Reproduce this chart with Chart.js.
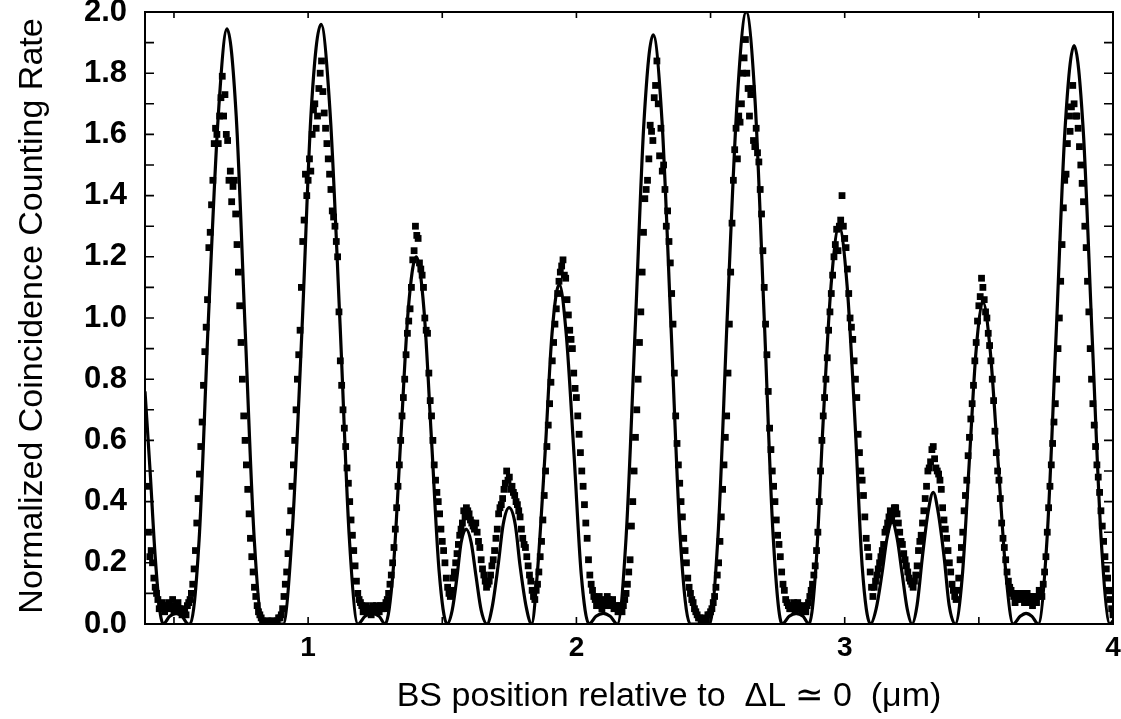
<!DOCTYPE html>
<html>
<head>
<meta charset="utf-8">
<script src="https://cdn.jsdelivr.net/npm/chart.js@4.4.1/dist/chart.umd.min.js"></script>
<style>
  html, body { margin: 0; padding: 0; background: #fff; }
  #wrap { width: 1121px; height: 719px; position: relative; }
</style>
</head>
<body>
<div id="wrap"><canvas id="c" width="1121" height="719"></canvas></div>
<script>
// Axis labels
const xTickLabels = [1, 2, 3, 4];
const yTickLabels = [0.0, 0.2, 0.4, 0.6, 0.8, 1.0, 1.2, 1.4, 1.6, 1.8, 2.0];
const xTitle = 'BS position relative to  \u0394L \u2243 0  (\u03bcm)';
const yTitle = 'Normalized Coincidence Counting Rate';

// Measured coincidence rate vs. beam-splitter position (µm), 5 nm steps
const scanPositions = [
  0.400,0.405,0.410,0.415,0.420,0.425,0.430,0.435,0.440,0.445,0.450,0.455,0.460,0.465,0.470,0.475,0.480,0.485,0.490,0.495,
  0.500,0.505,0.510,0.515,0.520,0.525,0.530,0.535,0.540,0.545,0.550,0.555,0.560,0.565,0.570,0.575,0.580,0.585,0.590,0.595,
  0.600,0.605,0.610,0.615,0.620,0.625,0.630,0.635,0.640,0.645,0.650,0.655,0.660,0.665,0.670,0.675,0.680,0.685,0.690,0.695,
  0.700,0.705,0.710,0.715,0.720,0.725,0.730,0.735,0.740,0.745,0.750,0.755,0.760,0.765,0.770,0.775,0.780,0.785,0.790,0.795,
  0.800,0.805,0.810,0.815,0.820,0.825,0.830,0.835,0.840,0.845,0.850,0.855,0.860,0.865,0.870,0.875,0.880,0.885,0.890,0.895,
  0.900,0.905,0.910,0.915,0.920,0.925,0.930,0.935,0.940,0.945,0.950,0.955,0.960,0.965,0.970,0.975,0.980,0.985,0.990,0.995,
  1.000,1.005,1.010,1.015,1.020,1.025,1.030,1.035,1.040,1.045,1.050,1.055,1.060,1.065,1.070,1.075,1.080,1.085,1.090,1.095,
  1.100,1.105,1.110,1.115,1.120,1.125,1.130,1.135,1.140,1.145,1.150,1.155,1.160,1.165,1.170,1.175,1.180,1.185,1.190,1.195,
  1.200,1.205,1.210,1.215,1.220,1.225,1.230,1.235,1.240,1.245,1.250,1.255,1.260,1.265,1.270,1.275,1.280,1.285,1.290,1.295,
  1.300,1.305,1.310,1.315,1.320,1.325,1.330,1.335,1.340,1.345,1.350,1.355,1.360,1.365,1.370,1.375,1.380,1.385,1.390,1.395,
  1.400,1.405,1.410,1.415,1.420,1.425,1.430,1.435,1.440,1.445,1.450,1.455,1.460,1.465,1.470,1.475,1.480,1.485,1.490,1.495,
  1.500,1.505,1.510,1.515,1.520,1.525,1.530,1.535,1.540,1.545,1.550,1.555,1.560,1.565,1.570,1.575,1.580,1.585,1.590,1.595,
  1.600,1.605,1.610,1.615,1.620,1.625,1.630,1.635,1.640,1.645,1.650,1.655,1.660,1.665,1.670,1.675,1.680,1.685,1.690,1.695,
  1.700,1.705,1.710,1.715,1.720,1.725,1.730,1.735,1.740,1.745,1.750,1.755,1.760,1.765,1.770,1.775,1.780,1.785,1.790,1.795,
  1.800,1.805,1.810,1.815,1.820,1.825,1.830,1.835,1.840,1.845,1.850,1.855,1.860,1.865,1.870,1.875,1.880,1.885,1.890,1.895,
  1.900,1.905,1.910,1.915,1.920,1.925,1.930,1.935,1.940,1.945,1.950,1.955,1.960,1.965,1.970,1.975,1.980,1.985,1.990,1.995,
  2.000,2.005,2.010,2.015,2.020,2.025,2.030,2.035,2.040,2.045,2.050,2.055,2.060,2.065,2.070,2.075,2.080,2.085,2.090,2.095,
  2.100,2.105,2.110,2.115,2.120,2.125,2.130,2.135,2.140,2.145,2.150,2.155,2.160,2.165,2.170,2.175,2.180,2.185,2.190,2.195,
  2.200,2.205,2.210,2.215,2.220,2.225,2.230,2.235,2.240,2.245,2.250,2.255,2.260,2.265,2.270,2.275,2.280,2.285,2.290,2.295,
  2.300,2.305,2.310,2.315,2.320,2.325,2.330,2.335,2.340,2.345,2.350,2.355,2.360,2.365,2.370,2.375,2.380,2.385,2.390,2.395,
  2.400,2.405,2.410,2.415,2.420,2.425,2.430,2.435,2.440,2.445,2.450,2.455,2.460,2.465,2.470,2.475,2.480,2.485,2.490,2.495,
  2.500,2.505,2.510,2.515,2.520,2.525,2.530,2.535,2.540,2.545,2.550,2.555,2.560,2.565,2.570,2.575,2.580,2.585,2.590,2.595,
  2.600,2.605,2.610,2.615,2.620,2.625,2.630,2.635,2.640,2.645,2.650,2.655,2.660,2.665,2.670,2.675,2.680,2.685,2.690,2.695,
  2.700,2.705,2.710,2.715,2.720,2.725,2.730,2.735,2.740,2.745,2.750,2.755,2.760,2.765,2.770,2.775,2.780,2.785,2.790,2.795,
  2.800,2.805,2.810,2.815,2.820,2.825,2.830,2.835,2.840,2.845,2.850,2.855,2.860,2.865,2.870,2.875,2.880,2.885,2.890,2.895,
  2.900,2.905,2.910,2.915,2.920,2.925,2.930,2.935,2.940,2.945,2.950,2.955,2.960,2.965,2.970,2.975,2.980,2.985,2.990,2.995,
  3.000,3.005,3.010,3.015,3.020,3.025,3.030,3.035,3.040,3.045,3.050,3.055,3.060,3.065,3.070,3.075,3.080,3.085,3.090,3.095,
  3.100,3.105,3.110,3.115,3.120,3.125,3.130,3.135,3.140,3.145,3.150,3.155,3.160,3.165,3.170,3.175,3.180,3.185,3.190,3.195,
  3.200,3.205,3.210,3.215,3.220,3.225,3.230,3.235,3.240,3.245,3.250,3.255,3.260,3.265,3.270,3.275,3.280,3.285,3.290,3.295,
  3.300,3.305,3.310,3.315,3.320,3.325,3.330,3.335,3.340,3.345,3.350,3.355,3.360,3.365,3.370,3.375,3.380,3.385,3.390,3.395,
  3.400,3.405,3.410,3.415,3.420,3.425,3.430,3.435,3.440,3.445,3.450,3.455,3.460,3.465,3.470,3.475,3.480,3.485,3.490,3.495,
  3.500,3.505,3.510,3.515,3.520,3.525,3.530,3.535,3.540,3.545,3.550,3.555,3.560,3.565,3.570,3.575,3.580,3.585,3.590,3.595,
  3.600,3.605,3.610,3.615,3.620,3.625,3.630,3.635,3.640,3.645,3.650,3.655,3.660,3.665,3.670,3.675,3.680,3.685,3.690,3.695,
  3.700,3.705,3.710,3.715,3.720,3.725,3.730,3.735,3.740,3.745,3.750,3.755,3.760,3.765,3.770,3.775,3.780,3.785,3.790,3.795,
  3.800,3.805,3.810,3.815,3.820,3.825,3.830,3.835,3.840,3.845,3.850,3.855,3.860,3.865,3.870,3.875,3.880,3.885,3.890,3.895,
  3.900,3.905,3.910,3.915,3.920,3.925,3.930,3.935,3.940,3.945,3.950,3.955,3.960,3.965,3.970,3.975,3.980,3.985,3.990,3.995,
  4.000
];
const coincidenceRate = [
  0.45,0.30,0.22,0.24,0.20,0.15,0.12,0.10,0.08,0.05,0.06,0.07,0.06,0.04,0.05,0.06,0.07,0.05,0.06,0.08,
  0.04,0.05,0.06,0.07,0.05,0.04,0.03,0.05,0.04,0.03,0.06,0.07,0.08,0.10,0.13,0.18,0.24,0.33,0.41,0.49,
  0.58,0.66,0.78,0.89,0.97,1.06,1.23,1.28,1.37,1.45,1.57,1.62,1.60,1.57,1.66,1.72,1.79,1.66,1.73,1.60,
  1.58,1.45,1.48,1.38,1.43,1.45,1.34,1.24,1.15,1.04,0.92,0.80,0.68,0.60,0.52,0.44,0.36,0.28,0.22,0.17,
  0.12,0.09,0.06,0.04,0.03,0.02,0.01,0.00,0.00,0.01,0.01,0.00,0.00,0.01,0.01,0.00,0.00,0.01,0.02,0.02,
  0.03,0.05,0.09,0.13,0.17,0.23,0.30,0.37,0.45,0.52,0.60,0.70,0.80,0.88,0.96,1.10,1.25,1.32,1.47,1.40,
  1.45,1.52,1.48,1.60,1.68,1.70,1.62,1.66,1.75,1.80,1.84,1.74,1.67,1.62,1.57,1.52,1.47,1.42,1.35,1.33,
  1.30,1.25,1.20,1.02,0.86,0.78,0.70,0.64,0.58,0.51,0.46,0.40,0.34,0.29,0.24,0.19,0.14,0.10,0.08,0.07,
  0.06,0.04,0.05,0.06,0.04,0.05,0.05,0.03,0.06,0.05,0.04,0.06,0.05,0.04,0.06,0.05,0.06,0.05,0.07,0.08,
  0.10,0.13,0.16,0.20,0.25,0.31,0.38,0.45,0.52,0.60,0.68,0.74,0.80,0.88,0.95,0.99,1.03,1.10,1.19,1.22,
  1.30,1.27,1.26,1.18,1.16,1.14,1.10,1.00,0.96,0.95,0.82,0.73,0.68,0.60,0.52,0.47,0.43,0.40,0.36,0.31,
  0.27,0.24,0.20,0.15,0.12,0.10,0.09,0.11,0.15,0.17,0.20,0.23,0.26,0.29,0.31,0.33,0.37,0.35,0.38,0.37,
  0.36,0.34,0.33,0.32,0.31,0.33,0.30,0.27,0.25,0.21,0.18,0.16,0.14,0.12,0.13,0.14,0.16,0.19,0.21,0.24,
  0.28,0.31,0.36,0.38,0.39,0.41,0.44,0.46,0.50,0.47,0.48,0.44,0.45,0.43,0.42,0.40,0.39,0.37,0.35,0.31,
  0.28,0.26,0.25,0.22,0.19,0.16,0.14,0.11,0.09,0.08,0.11,0.13,0.17,0.22,0.27,0.34,0.42,0.50,0.58,0.65,
  0.72,0.79,0.86,0.92,0.98,1.03,1.08,1.12,1.15,1.17,1.19,1.14,1.13,1.06,1.01,0.96,0.93,0.90,0.82,0.77,
  0.74,0.68,0.62,0.56,0.50,0.45,0.39,0.33,0.28,0.21,0.16,0.13,0.11,0.09,0.08,0.06,0.08,0.09,0.07,0.05,
  0.08,0.07,0.06,0.09,0.08,0.06,0.07,0.08,0.05,0.06,0.06,0.04,0.05,0.06,0.04,0.06,0.08,0.10,0.13,0.17,
  0.21,0.32,0.40,0.50,0.61,0.70,0.80,0.92,1.02,1.15,1.28,1.39,1.42,1.45,1.52,1.63,1.61,1.58,1.72,1.76,
  1.84,1.70,1.53,1.62,1.48,1.50,1.42,1.30,1.35,1.25,1.18,1.08,0.98,0.82,0.68,0.59,0.52,0.46,0.40,0.35,
  0.28,0.24,0.20,0.15,0.12,0.10,0.08,0.07,0.05,0.04,0.03,0.02,0.02,0.01,0.01,0.00,0.02,0.01,0.03,0.03,
  0.04,0.05,0.07,0.09,0.12,0.16,0.20,0.27,0.35,0.44,0.52,0.61,0.68,0.82,0.98,1.15,1.31,1.45,1.55,1.62,
  1.52,1.66,1.64,1.70,1.80,1.85,1.91,1.80,1.75,1.66,1.73,1.75,1.58,1.56,1.62,1.54,1.51,1.42,1.34,1.22,
  1.10,0.98,0.88,0.76,0.64,0.57,0.50,0.45,0.40,0.34,0.29,0.26,0.22,0.17,0.13,0.11,0.08,0.07,0.06,0.05,
  0.05,0.06,0.07,0.04,0.05,0.07,0.06,0.05,0.04,0.06,0.05,0.04,0.06,0.07,0.09,0.11,0.13,0.16,0.19,0.24,
  0.30,0.40,0.50,0.60,0.68,0.74,0.80,0.87,0.96,1.02,1.08,1.14,1.20,1.24,1.29,1.22,1.30,1.32,1.40,1.30,
  1.26,1.23,1.16,1.08,1.00,0.97,0.93,0.86,0.80,0.74,0.62,0.56,0.50,0.47,0.42,0.35,0.28,0.25,0.22,0.17,
  0.12,0.09,0.12,0.14,0.16,0.18,0.20,0.22,0.24,0.26,0.30,0.31,0.33,0.35,0.37,0.34,0.36,0.38,0.38,0.36,
  0.33,0.30,0.27,0.26,0.23,0.21,0.19,0.17,0.15,0.14,0.13,0.12,0.14,0.16,0.19,0.24,0.27,0.29,0.33,0.37,
  0.41,0.45,0.50,0.51,0.53,0.57,0.58,0.54,0.51,0.50,0.49,0.47,0.44,0.38,0.34,0.31,0.28,0.24,0.20,0.17,
  0.13,0.11,0.09,0.08,0.11,0.15,0.21,0.25,0.30,0.37,0.42,0.47,0.55,0.61,0.67,0.72,0.78,0.86,0.92,0.99,
  1.04,1.07,1.13,1.10,1.06,1.02,1.00,0.95,0.91,0.86,0.80,0.73,0.63,0.56,0.50,0.47,0.41,0.33,0.28,0.25,
  0.21,0.17,0.14,0.12,0.11,0.10,0.09,0.07,0.08,0.10,0.10,0.08,0.09,0.10,0.07,0.09,0.10,0.07,0.08,0.09,
  0.06,0.09,0.08,0.07,0.09,0.11,0.10,0.09,0.13,0.17,0.22,0.30,0.38,0.45,0.52,0.59,0.66,0.72,0.80,0.90,
  1.00,1.12,1.24,1.36,1.45,1.47,1.57,1.66,1.61,1.69,1.76,1.70,1.66,1.66,1.62,1.56,1.50,1.44,1.38,1.30,
  1.23,1.12,1.02,0.90,0.80,0.72,0.65,0.58,0.52,0.48,0.43,0.37,0.32,0.27,0.22,0.18,0.15,0.11,0.08,0.05,
  0.03
];

// Theoretical curve, sampled at its zeros, quarter points and maxima
const fitPositions = [
  0.392,0.411,0.430,0.448,0.460,0.484,0.508,0.530,0.553,
  0.560,0.594,0.627,0.665,0.698,0.732,0.765,0.799,0.832,0.870,
  0.907,0.940,0.978,1.011,1.048,1.082,1.119,1.153,1.186,
  1.212,1.239,1.265,1.287,
  1.317,1.345,1.373,1.403,1.432,1.460,1.488,1.518,
  1.537,1.555,1.570,1.589,1.608,1.626,1.645,1.667,
  1.686,1.708,1.727,1.749,1.772,1.790,1.813,1.833,
  1.854,1.883,1.909,1.936,1.962,1.991,2.018,2.047,
  2.073,2.100,2.126,2.152,
  2.185,2.219,2.252,2.286,2.319,2.353,2.387,2.424,
  2.461,2.495,
  2.528,2.562,2.599,2.633,2.666,2.700,2.733,2.767,
  2.793,2.819,2.845,2.867,
  2.893,2.919,2.949,2.979,3.009,3.039,3.065,3.096,
  3.117,3.139,3.158,3.177,3.195,3.214,3.233,3.251,
  3.270,3.289,3.311,3.330,3.348,3.371,3.389,3.412,
  3.438,3.464,3.490,3.516,3.542,3.572,3.602,3.628,
  3.654,3.676,3.698,3.721,
  3.754,3.788,3.821,3.855,3.889,3.922,3.956,3.989,4.000
];
const fitRate = [
  0.76,0.50,0.22,0.04,0,0.025,0.035,0.025,0,
  0,0.28,0.97,1.66,1.945,1.66,0.97,0.28,0,0,
  0,0.29,0.98,1.67,1.96,1.67,0.98,0.29,0,
  0.025,0.035,0.025,0,
  0.175,0.60,1.025,1.20,1.025,0.60,0.175,0,
  0.045,0.155,0.265,0.31,0.265,0.155,0.045,0,
  0.055,0.19,0.325,0.38,0.325,0.19,0.055,0,
  0.162,0.555,0.948,1.11,0.948,0.555,0.162,0,
  0.025,0.035,0.025,0,
  0.281,0.963,1.644,1.925,1.644,0.963,0.281,0,
  0,0,
  0.292,1.0,1.708,2.0,1.708,1.0,0.292,0,
  0.025,0.035,0.025,0,
  0.19,0.65,1.105,1.30,1.105,0.65,0.19,0,
  0.049,0.165,0.282,0.333,0.282,0.165,0.049,0,
  0.063,0.215,0.367,0.43,0.367,0.215,0.063,0,
  0.153,0.525,0.897,1.05,0.897,0.525,0.153,0,
  0.025,0.035,0.025,0,
  0.276,0.945,1.614,1.89,1.614,0.945,0.276,0,0.01
];

const measured = scanPositions.map((x, i) => ({ x, y: coincidenceRate[i] }));
const theory = fitPositions.map((x, i) => ({ x, y: fitRate[i] }));

const FONT = '"Liberation Sans", Arial, Helvetica, sans-serif';

// Closed frame with inward tick marks on all four sides, plus axis titles
const frameAndTitles = {
  id: 'frameAndTitles',
  afterDatasetsDraw(chart) {
    const { ctx, chartArea: a, scales: { x, y } } = chart;
    ctx.save();
    ctx.strokeStyle = '#000';
    ctx.lineWidth = 2;
    ctx.strokeRect(a.left, a.top, a.right - a.left, a.bottom - a.top);
    ctx.lineWidth = 1.6;
    ctx.beginPath();
    for (let k = 1; k <= 8; k++) {
      const px = x.getPixelForValue(k * 0.5);
      ctx.moveTo(px, a.bottom); ctx.lineTo(px, a.bottom - 7);
      ctx.moveTo(px, a.top); ctx.lineTo(px, a.top + 6);
    }
    for (let k = 1; k < 20; k++) {
      const py = y.getPixelForValue(k / 10);
      ctx.moveTo(a.left, py); ctx.lineTo(a.left + 9, py);
      ctx.moveTo(a.right, py); ctx.lineTo(a.right - 9, py);
    }
    ctx.stroke();

    ctx.fillStyle = '#000';
    ctx.font = '34px ' + FONT;
    ctx.textAlign = 'center';
    ctx.textBaseline = 'alphabetic';
    ctx.fillText(xTitle, 669, 706);
    ctx.translate(42, 316);
    ctx.rotate(-Math.PI / 2);
    ctx.fillText(yTitle, 0, 0);
    ctx.restore();
  }
};

new Chart(document.getElementById('c'), {
  type: 'scatter',
  data: {
    datasets: [
      {
        label: 'measured',
        data: measured,
        showLine: false,
        pointStyle: 'rect',
        pointRadius: 4.8,
        pointHoverRadius: 4.8,
        backgroundColor: '#000',
        borderColor: '#000',
        borderWidth: 0
      },
      {
        label: 'theory',
        type: 'line',
        data: theory,
        showLine: true,
        fill: false,
        pointRadius: 0,
        borderColor: '#000',
        borderWidth: 3.2,
        cubicInterpolationMode: 'monotone'
      }
    ]
  },
  options: {
    responsive: false,
    animation: false,
    devicePixelRatio: 1,
    layout: { padding: { left: 0, right: 8, top: 12, bottom: 0 } },
    plugins: { legend: { display: false }, tooltip: { enabled: false } },
    scales: {
      x: {
        type: 'linear',
        min: 0.392,
        max: 4.0,
        grid: { display: false, drawTicks: false },
        border: { display: false },
        afterBuildTicks: s => { s.ticks = xTickLabels.map(v => ({ value: v })); },
        afterFit: s => { s.height = 95; s.paddingLeft = 0; s.paddingRight = 0; },
        ticks: {
          color: '#000',
          font: { family: FONT, size: 28, weight: 'bold' },
          padding: 7,
          maxRotation: 0,
          callback: v => String(v)
        }
      },
      y: {
        type: 'linear',
        min: 0,
        max: 2.0,
        grid: { display: false, drawTicks: false },
        border: { display: false },
        afterBuildTicks: s => { s.ticks = yTickLabels.map(v => ({ value: v })); },
        afterFit: s => { s.width = 145; s.paddingTop = 0; s.paddingBottom = 0; },
        ticks: {
          color: '#000',
          font: { family: FONT, size: 31, weight: 'bold' },
          padding: 18,
          callback: v => Number(v).toFixed(1)
        }
      }
    }
  },
  plugins: [frameAndTitles]
});
</script>
</body>
</html>
